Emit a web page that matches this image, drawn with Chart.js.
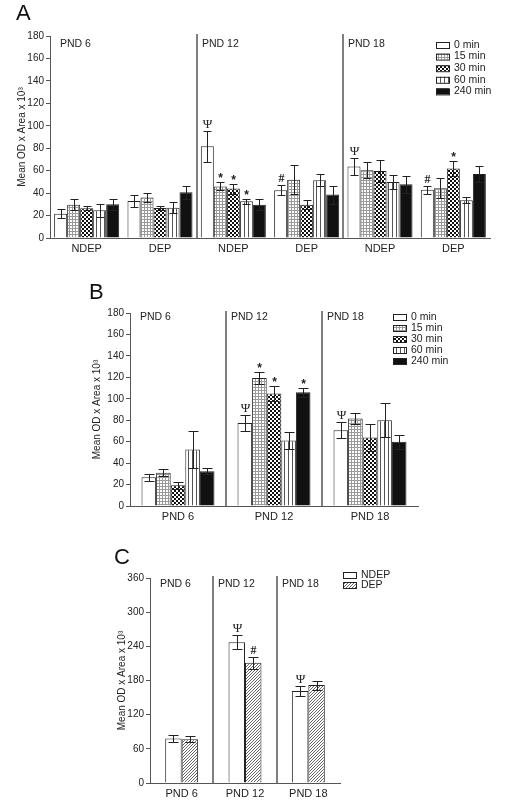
<!DOCTYPE html>
<html>
<head>
<meta charset="utf-8">
<script src="https://cdn.jsdelivr.net/npm/chart.js@4.4.1/dist/chart.umd.min.js"></script>
<style>
  body { margin: 0; background: #fff; width: 509px; height: 810px; position: relative; overflow: hidden; font-family: "Liberation Sans", Arial, sans-serif; }
  canvas { position: absolute; left: 0; }
  .panel { position: absolute; font-size: 22px; line-height: 1; color: #111; }
</style>
</head>
<body>
<canvas id="chartA" width="509" height="262" style="top:0"></canvas>
<canvas id="chartB" width="509" height="272" style="top:270px"></canvas>
<canvas id="chartC" width="509" height="260" style="top:550px"></canvas>
<div class="panel" style="left:16px;top:2px">A</div>
<div class="panel" style="left:89px;top:281px">B</div>
<div class="panel" style="left:114px;top:546px">C</div>
<script>
// ---- data ----
const timeLabels = ['0 min', '15 min', '30 min', '60 min', '240 min'];
const groupNames = ['PND 6', 'PND 12', 'PND 18'];

// panel A: NDEP / DEP per age
const catsA = ['NDEP', 'DEP', 'NDEP', 'DEP', 'NDEP', 'DEP'];
const a0   = [21.7, 33, 81.8, 42.5, 63.7, 43];
const a15  = [29.7, 36, 46, 52, 60.4, 44.3];
const a30  = [26.5, 26.8, 44, 29.7, 59.8, 61.9];
const a60  = [24.7, 27, 32.7, 51.5, 50, 33.6];
const a240 = [30, 40.7, 29.7, 38.7, 47.9, 57];
const errA0   = [3.7, 5.2, 13.8, 4.5, 7.7, 3.4];
const errA15  = [4.7, 4.2, 3.6, 13, 7.3, 8.9];
const errA30  = [1.8, 2.1, 4.5, 3.9, 10, 6.8];
const errA60  = [5.7, 5, 2.2, 5.2, 6.4, 2.7];
const errA240 = [4.8, 6, 5, 8, 7.7, 7.1];
const markA0   = ['', '', 'Ψ', '#', 'Ψ', '#'];
const markA15  = ['', '', '*', '', '', ''];
const markA30  = ['', '', '*', '', '', '*'];
const markA60  = ['', '', '*', '', '', ''];
const markA240 = ['', '', '', '', '', ''];

// panel B: per age
const catsB = ['PND 6', 'PND 12', 'PND 18'];
const b0   = [26.7, 77.5, 70.7];
const b15  = [31, 119.3, 81.6];
const b30  = [19.3, 105, 64];
const b60  = [52.8, 61, 80];
const b240 = [32.3, 106, 60];
const errB0   = [3.1, 7.5, 7.5];
const errB15  = [3.4, 5.5, 5];
const errB30  = [3.4, 7, 12.5];
const errB60  = [17, 8, 16];
const errB240 = [2.8, 4, 6.5];
const markB0   = ['', 'Ψ', 'Ψ'];
const markB15  = ['', '*', ''];
const markB30  = ['', '*', ''];
const markB60  = ['', '', ''];
const markB240 = ['', '*', ''];

// panel C: NDEP vs DEP
const catsC = ['PND 6', 'PND 12', 'PND 18'];
const cLabels = ['NDEP', 'DEP'];
const cNdep = [78, 247, 161.5];
const cDep  = [77, 211, 172];
const errCNdep = [6.5, 12.5, 8.5];
const errCDep  = [5.5, 10.5, 8];
const markCNdep = ['', 'Ψ', 'Ψ'];
const markCDep  = ['', '#', ''];

// ---- fill patterns ----
function pattern(size, draw) {
  const c = document.createElement('canvas');
  c.width = size; c.height = size;
  const g = c.getContext('2d');
  draw(g);
  return g.createPattern(c, 'repeat');
}
const fillWhite = '#ffffff';
const fillDots = pattern(3, g => {
  g.fillStyle = '#fff'; g.fillRect(0, 0, 3, 3);
  g.fillStyle = '#9a9a9a'; g.fillRect(0, 0, 3, 1); g.fillRect(0, 0, 1, 3);
});
const fillCheck = pattern(4, g => {
  g.fillStyle = '#111'; g.fillRect(0, 0, 4, 4);
  g.fillStyle = '#fff';
  g.fillRect(0, 0, 2, 2); g.fillRect(2, 2, 2, 2);
});
const fillStripes = pattern(4, g => {
  g.fillStyle = '#fff'; g.fillRect(0, 0, 4, 4);
  g.fillStyle = '#555'; g.fillRect(0, 0, 1, 4);
});
const fillBlack = '#111';
const fillHatch = pattern(3, g => {
  g.fillStyle = '#fff'; g.fillRect(0, 0, 3, 3);
  g.fillStyle = '#666';
  g.fillRect(0, 2, 1, 1); g.fillRect(1, 1, 1, 1); g.fillRect(2, 0, 1, 1);
});
const timeFills = [fillWhite, fillDots, fillCheck, fillStripes, fillBlack];

// ---- error bars, markers, dividers, group names, legend ----
const decor = {
  id: 'decor',
  afterDatasetsDraw(chart, args, o) {
    const ctx = chart.ctx;
    const ys = chart.scales.y, xs = chart.scales.x, area = chart.chartArea;
    ctx.save();
    // dividers
    ctx.strokeStyle = '#555';
    ctx.lineWidth = 1.5;
    const divX = o.dividers.map(i => Math.round((xs.getPixelForValue(i) + xs.getPixelForValue(i + 1)) / 2));
    divX.forEach(x => {
      ctx.beginPath(); ctx.moveTo(x, area.top - 2); ctx.lineTo(x, area.bottom); ctx.stroke();
    });
    // group names
    ctx.fillStyle = '#222';
    ctx.font = '10.5px "Liberation Sans", Arial, sans-serif';
    ctx.textBaseline = 'middle';
    ctx.textAlign = 'left';
    const starts = [area.left + 10].concat(divX.map(x => x + 5));
    groupNames.forEach((n, i) => ctx.fillText(n, starts[i], area.top + o.nameDy));
    // error bars + marks
    ctx.strokeStyle = '#222';
    ctx.lineWidth = 1;
    chart.data.datasets.forEach((ds, di) => {
      const meta = chart.getDatasetMeta(di);
      meta.data.forEach((bar, i) => {
        const v = ds.data[i], e = ds.errors[i];
        const x = Math.round(bar.x) + 0.5;
        const yt = Math.round(ys.getPixelForValue(v + e)) + 0.5;
        const yb = Math.round(ys.getPixelForValue(v - e)) + 0.5;
        const hw = o.capW / 2;
        ctx.beginPath();
        ctx.moveTo(x, yt); ctx.lineTo(x, yb);
        ctx.moveTo(x - hw, yt); ctx.lineTo(x + hw, yt);
        ctx.moveTo(x - hw, yb); ctx.lineTo(x + hw, yb);
        ctx.stroke();
        const m = ds.marks[i];
        if (!m) return;
        ctx.textAlign = 'center';
        ctx.textBaseline = 'alphabetic';
        if (m === '*') {
          ctx.font = 'bold 12px "Liberation Sans", Arial, sans-serif';
          ctx.fillText(m, x, yt - 1);
        } else if (m === '#') {
          ctx.font = 'bold 12px "Liberation Serif", "DejaVu Serif", serif';
          ctx.fillText(m, x, yt - 4);
        } else {
          ctx.font = '13px "Liberation Serif", "DejaVu Serif", serif';
          ctx.fillText(m, x, yt - 4);
        }
      });
    });
    // legend
    const lg = o.legend;
    ctx.font = '10.5px "Liberation Sans", Arial, sans-serif';
    ctx.textAlign = 'left';
    ctx.textBaseline = 'middle';
    chart.data.datasets.forEach((ds, di) => {
      const cy = lg.y + di * lg.row;
      ctx.fillStyle = ds.backgroundColor;
      ctx.fillRect(lg.x, cy - 3, 13, 6);
      ctx.strokeStyle = '#222';
      ctx.strokeRect(lg.x + 0.5, cy - 3 + 0.5, 13, 6);
      ctx.fillStyle = '#222';
      ctx.fillText(ds.label, lg.x + 18, cy);
    });
    ctx.restore();
  }
};

function makeChart(id, cfg) {
  const datasets = cfg.values.map((vals, i) => ({
    label: cfg.labels[i],
    data: vals,
    errors: cfg.errors[i],
    marks: cfg.marks[i],
    backgroundColor: cfg.fills[i],
    borderColor: '#222',
    borderWidth: 1,
    categoryPercentage: cfg.catPct,
    barPercentage: 1
  }));
  return new Chart(document.getElementById(id), {
    type: 'bar',
    data: { labels: cfg.cats, datasets },
    plugins: [decor],
    options: {
      responsive: false,
      animation: false,
      layout: { padding: cfg.pad },
      plugins: {
        legend: { display: false },
        tooltip: { enabled: false },
        decor: cfg.decor
      },
      scales: {
        x: {
          grid: { display: false, drawTicks: false },
          border: { display: true, color: '#555', width: 1 },
          ticks: { color: '#222', padding: 4, font: { size: 11, family: '"Liberation Sans", Arial, sans-serif' } },
          afterFit(s) { s.height = cfg.xH; }
        },
        y: {
          min: 0, max: cfg.max,
          ticks: { stepSize: cfg.step, color: '#222', padding: 2, font: { size: 10, family: '"Liberation Sans", Arial, sans-serif' } },
          grid: { drawOnChartArea: false, drawTicks: true, tickLength: 4, color: '#555' },
          border: { display: true, color: '#555', width: 1 },
          title: {
            display: true, text: 'Mean OD x Area x 10³', color: '#222',
            padding: { top: 4, bottom: 0 },
            font: { size: 10, family: '"Liberation Sans", Arial, sans-serif' }
          },
          afterFit(s) { s.width = cfg.yW; }
        }
      }
    }
  });
}

makeChart('chartA', {
  cats: catsA, labels: timeLabels, fills: timeFills,
  values: [a0, a15, a30, a60, a240],
  errors: [errA0, errA15, errA30, errA60, errA240],
  marks: [markA0, markA15, markA30, markA60, markA240],
  catPct: 0.887, max: 180, step: 20,
  pad: { left: 12, top: 36, right: 19, bottom: 0 }, yW: 38, xH: 24,
  decor: { dividers: [1, 3], nameDy: 8, capW: 8, legend: { x: 436, y: 45, row: 11.6 } }
});

makeChart('chartB', {
  cats: catsB, labels: timeLabels, fills: timeFills,
  values: [b0, b15, b30, b60, b240],
  errors: [errB0, errB15, errB30, errB60, errB240],
  marks: [markB0, markB15, markB30, markB60, markB240],
  catPct: 0.76, max: 180, step: 20,
  pad: { left: 87, top: 43, right: 91, bottom: 0 }, yW: 43, xH: 36,
  decor: { dividers: [0, 1], nameDy: 4, capW: 10, legend: { x: 393, y: 47, row: 11 } }
});

makeChart('chartC', {
  cats: catsC, labels: cLabels, fills: [fillWhite, fillHatch],
  values: [cNdep, cDep],
  errors: [errCNdep, errCDep],
  marks: [markCNdep, markCDep],
  catPct: 0.52, max: 360, step: 60,
  pad: { left: 112, top: 28, right: 169, bottom: 0 }, yW: 38, xH: 27,
  decor: { dividers: [0, 1], nameDy: 6, capW: 10, legend: { x: 343, y: 25, row: 10 } }
});
</script>
</body>
</html>
